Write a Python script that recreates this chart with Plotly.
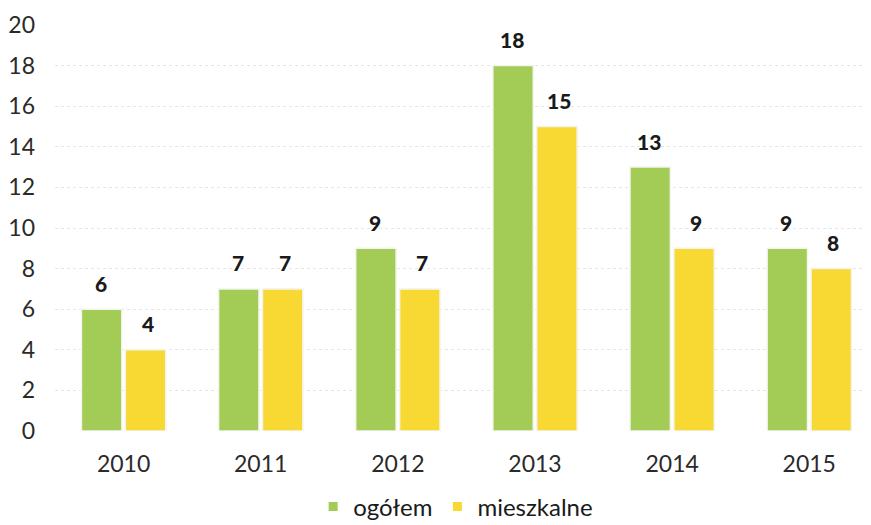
import plotly.graph_objects as go

years = ["2010", "2011", "2012", "2013", "2014", "2015"]
ogolem = [6, 7, 9, 18, 13, 9]
mieszkalne = [4, 7, 7, 15, 9, 8]
series_names = ["ogółem", "mieszkalne"]
colors = ["#a3cc57", "#f8d833"]

FONT = "Lato"

fig = go.Figure()
for name, vals, col in zip(series_names, [ogolem, mieszkalne], colors):
    fig.add_trace(go.Bar(
        x=list(range(len(years))), y=vals, name=name,
        marker=dict(color=col, line=dict(color="#f4f4ee", width=1.5)),
        hoverinfo="skip", showlegend=False,
    ))
# legend entries with small square markers
for name, col in zip(series_names, colors):
    fig.add_trace(go.Scatter(
        x=[None], y=[None], mode="markers", name=name,
        marker=dict(symbol="square", size=9, color=col),
    ))

annotations = []
for vals, shift in [(ogolem, -23), (mieszkalne, 24)]:
    for i, v in enumerate(vals):
        annotations.append(dict(
            x=i, y=v, xref="x", yref="y", text=str(v),
            showarrow=False, xshift=shift, yshift=26,
            font=dict(family=FONT, size=21, color="#1a1a1a", weight=900),
        ))

# page body has an 8px default margin, so the figure is 8px smaller
fig.update_layout(
    width=863, height=517,
    margin=dict(l=47, r=0, t=17, b=94),
    paper_bgcolor="white", plot_bgcolor="white",
    barmode="group", bargap=0.36, bargroupgap=0.08,
    font=dict(family=FONT, size=23, color="#2a2a2a"),
    annotations=annotations,
    legend=dict(orientation="h", x=0.491, xanchor="center",
                yref="container", y=0.035, yanchor="middle",
                font=dict(family=FONT, size=24, color="#1a1a1a"),
                tracegroupgap=0),
    xaxis=dict(tickmode="array", tickvals=list(range(len(years))), ticktext=years,
               range=[-0.5, 5.45], showgrid=False, zeroline=False, showline=False,
               ticks="", ticklabelstandoff=17, automargin=False,
               tickfont=dict(size=23, color="#2a2a2a")),
    yaxis=dict(range=[0, 20], dtick=2, showgrid=True, gridcolor="#e6e6e6",
               griddash="dot", gridwidth=1, zeroline=False, showline=False,
               ticks="", ticklabelstandoff=19, automargin=False,
               tickfont=dict(size=23, color="#2a2a2a")),
)

fig.write_html("out.html")
